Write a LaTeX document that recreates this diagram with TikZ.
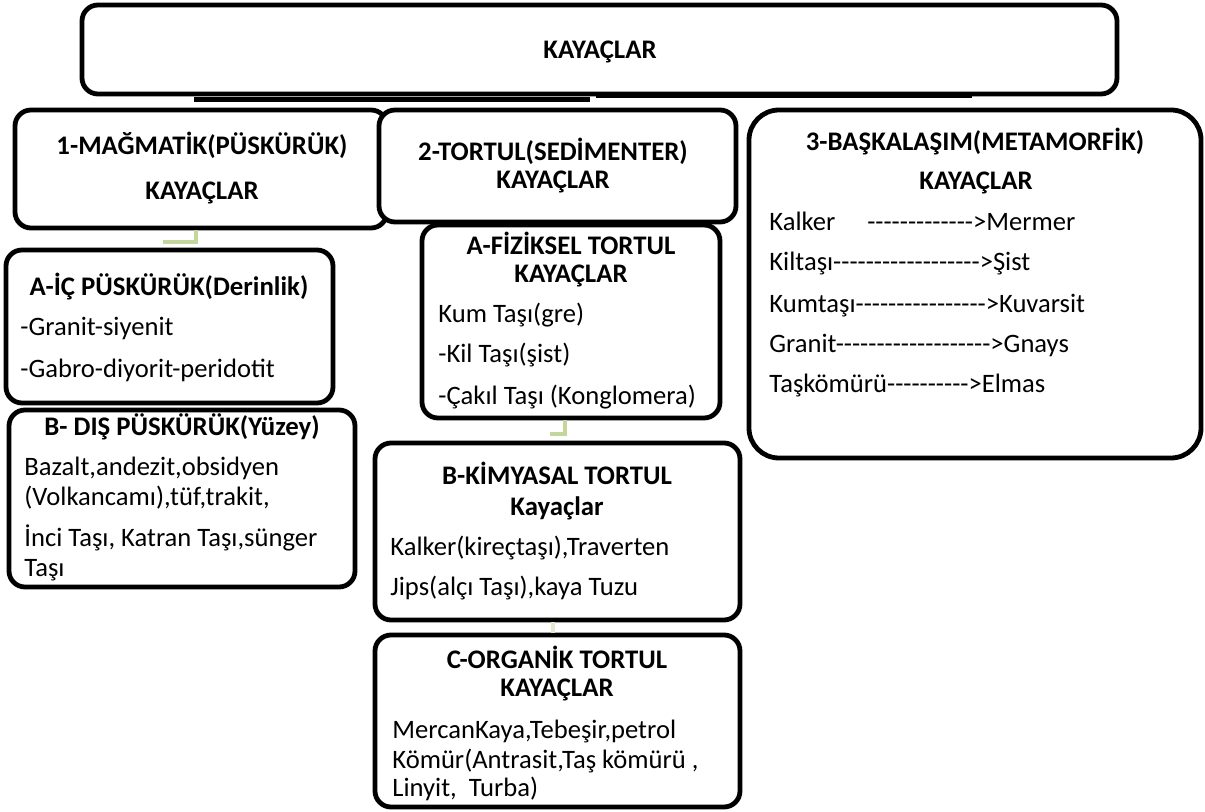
\documentclass[tikz,border=0pt]{standalone}
\usepackage{fontspec}
\setmainfont{Carlito}
\usepackage{tikz}
\usetikzlibrary{positioning}
\usetikzlibrary{fit}
\definecolor{yesil}{HTML}{C3D69B}
\definecolor{acikyesil}{HTML}{E3EBD0}
\newcommand{\tire}[1]{\foreach \k in {1,...,#1}{-}}
\begin{document}
\begin{tikzpicture}
[
x=0.5pt, y=-0.5pt,
font=\fontsize{13.3}{15}\selectfont,
kutu/.style={draw, line width=2.4pt, rounded corners=8pt, fill=white, inner sep=0pt},
baslik/.style={font=\fontsize{13.4}{15}\selectfont\bfseries, anchor=base, inner sep=0pt},
madde/.style={anchor=base west, inner sep=0pt},
bag/.style={draw=yesil, line width=2pt},
golge/.style={draw=black, line width=2.5pt},
]
\useasboundingbox (0,0) rectangle (1205,812);
% boxes
\node (ust) [kutu, fit={(82,5) (1117,94)}] {};
\draw [golge] (194,100) -- (590,100);
\draw [golge] (596,96) -- (972,96);
\node (mag) [kutu, fit={(15,110) (387,228)}] {};
\node (tor) [kutu, fit={(379,110) (736,222)}] {};
\node (met) [kutu, rounded corners=15pt, fit={(749,110) (1201,458)}] {};
\coordinate (d1) at (163,242);
\coordinate (d2) at (550,434);
\draw [bag] ([xshift=-2.5pt]mag.south) |- (d1);
\node (ic)  [kutu, fit={(6,250) (333,403)}] {};
\node (dis) [kutu, fit={(9,410) (355,587)}] {};
\node (fiz) [kutu, fit={(422,225) (720,418)}] {};
\draw [bag] ([xshift=-3pt]fiz.south) |- (d2);
\node (kim) [kutu, fit={(375,443) (740,620)}] {};
\node (org) [kutu, fit={(375,635) (740,807)}] {};
\draw [bag, draw=acikyesil] ([xshift=-2.5pt]kim.south) -- ([xshift=-2.5pt]org.north);
% texts
\node (t0) [baslik] at (600,59) {KAYAÇLAR};
\node (m1) [baslik] at (202,155) {1-MAĞMATİK(PÜSKÜRÜK)};
\node (m2) [baslik] at (202,200) {KAYAÇLAR};
\node (s1) [baslik] at (553,161) {2-TORTUL(SEDİMENTER)};
\node (s2) [baslik] at (553,189) {KAYAÇLAR};
\node (b1) [baslik] at (975,151) {3-BAŞKALAŞIM(METAMORFİK)};
\node (b2) [baslik] at (976,190) {KAYAÇLAR};
\node (b3) [madde] at (769,231) {Kalker\hspace{1.2em}\tire{13}>Mermer};
\node (b4) [madde] at (769,271) {Kiltaşı\tire{18}>Şist};
\node (b5) [madde] at (769,313) {Kumtaşı\tire{16}>Kuvarsit};
\node (b6) [madde] at (769,353) {Granit\tire{19}>Gnays};
\node (b7) [madde] at (769,393) {Taşkömürü\tire{10}>Elmas};
\node (i1) [baslik] at (169,296) {A-İÇ PÜSKÜRÜK(Derinlik)};
\node (i2) [madde] at (20,336) {-Granit-siyenit};
\node (i3) [madde] at (20,378) {-Gabro-diyorit-peridotit};
\node (o1) [baslik] at (182,436) {B- DIŞ PÜSKÜRÜK(Yüzey)};
\node (o2) [madde] at (24,476) {Bazalt,andezit,obsidyen};
\node (o3) [madde] at (24,506) {(Volkancamı),tüf,trakit,};
\node (o4) [madde] at (24,546) {İnci Taşı, Katran Taşı,sünger};
\node (o5) [madde] at (24,576) {Taşı};
\node (f1) [baslik] at (571,255) {A-FİZİKSEL TORTUL};
\node (f2) [baslik] at (571,283) {KAYAÇLAR};
\node (f3) [madde] at (438,323) {Kum Taşı(gre)};
\node (f4) [madde] at (438,363) {-Kil Taşı(şist)};
\node (f5) [madde] at (438,405) {-Çakıl Taşı (Konglomera)};
\node (k1) [baslik] at (557,485) {B-KİMYASAL TORTUL};
\node (k2) [baslik] at (557,516) {Kayaçlar};
\node (k3) [madde] at (390,555) {Kalker(kireçtaşı),Traverten};
\node (k4) [madde] at (390,596) {Jips(alçı Taşı),kaya Tuzu};
\node (g1) [baslik] at (557,668) {C-ORGANİK TORTUL};
\node (g2) [baslik] at (557,696) {KAYAÇLAR};
\node (g3) [madde] at (392,738) {MercanKaya,Tebeşir,petrol};
\node (g4) [madde] at (392,768) {Kömür(Antrasit,Taş kömürü ,};
\node (g5) [madde] at (392,796) {Linyit,\ \ Turba)};
\end{tikzpicture}
\end{document}
